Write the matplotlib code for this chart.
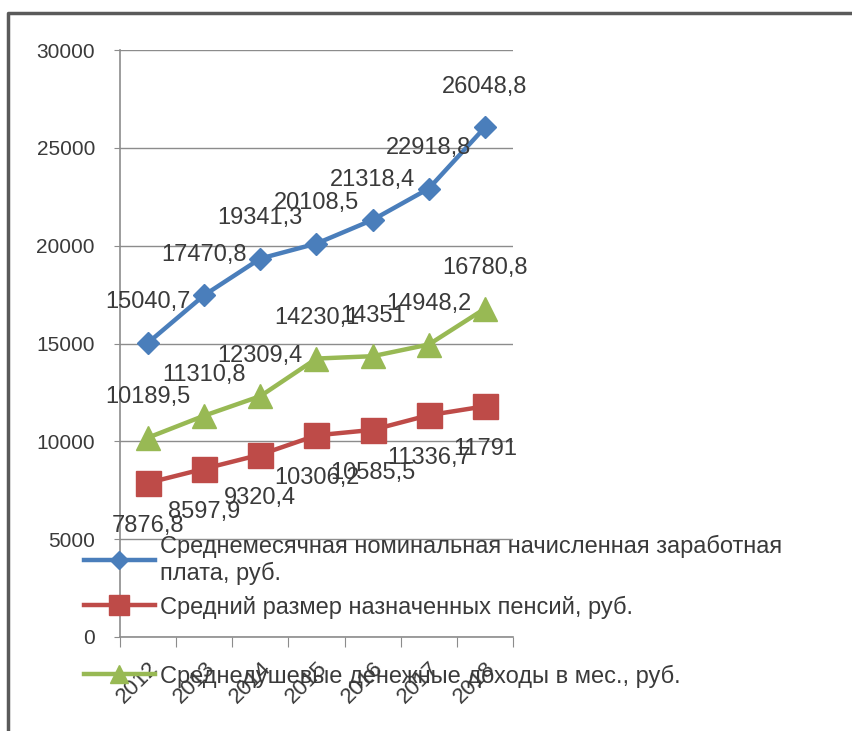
import numpy as np
import matplotlib.pyplot as plt
from matplotlib.lines import Line2D

plt.rcParams['font.family'] = ['Liberation Sans', 'DejaVu Sans']

# Данные
years = ['2012', '2013', '2014', '2015', '2016', '2017', '2018']
zarplata = [15040.7, 17470.8, 19341.3, 20108.5, 21318.4, 22918.8, 26048.8]
pensii = [7876.8, 8597.9, 9320.4, 10306.2, 10585.5, 11336.7, 11791]
dohody = [10189.5, 11310.8, 12309.4, 14230.1, 14351, 14948.2, 16780.8]

names = ['Среднемесячная номинальная начисленная заработная\nплата, руб.',
         'Средний размер назначенных пенсий, руб.',
         'Среднедушевые денежные доходы в мес., руб.']

text_col = '#3a3a3a'
grid_col = '#8c8c8c'

fig = plt.figure(figsize=(8.53, 7.31), dpi=100)
ax = fig.add_axes([120/853, 1 - 637/731, 393/853, 587/731])

x = np.arange(len(years))
l1, = ax.plot(x, zarplata, color='#4A7EBB', lw=3.2, marker='D', ms=11, zorder=4)
l2, = ax.plot(x, pensii, color='#BE4B48', lw=3.2, marker='s', ms=18, zorder=4)
l3, = ax.plot(x, dohody, color='#98B954', lw=3.2, marker='^', ms=17, zorder=4)

def fmt(v):
    s = ('%.1f' % v).rstrip('0').rstrip('.')
    return s.replace('.', ',')

# подписи данных
for xs, vals, dy in [(x, zarplata, 29), (x, dohody, 29), (x, pensii, -31)]:
    for xi, v in zip(xs, vals):
        ax.annotate(fmt(v), (xi, v), xytext=(0, dy), textcoords='offset points',
                    ha='center', va='center', fontsize=17, color=text_col, zorder=5)

ax.set_xlim(-0.5, 6.5)
ax.set_ylim(0, 30000)
ax.set_yticks(np.arange(0, 30001, 5000))
ax.set_yticklabels([str(v) for v in range(0, 30001, 5000)])
ax.yaxis.grid(True, color=grid_col, lw=1)
ax.set_axisbelow(True)

ax.set_xticks(np.arange(-0.5, 7, 1))
ax.set_xticklabels([])
ax.set_xticks(x, minor=True)
ax.set_xticklabels(years, minor=True, rotation=45, ha='right', rotation_mode='anchor')
ax.tick_params(axis='x', which='major', length=7, color=grid_col)
ax.tick_params(axis='x', which='minor', length=0, pad=15, labelsize=16, labelcolor=text_col)
ax.tick_params(axis='y', length=4, color=grid_col, pad=14, labelsize=15, labelcolor=text_col)

for s in ['top', 'right']:
    ax.spines[s].set_visible(False)
for s in ['left', 'bottom']:
    ax.spines[s].set_color(grid_col)
    ax.spines[s].set_linewidth(1.2)

# легенда (три отдельных элемента, как на исходной картинке)
for line, name, ypix in [(l1, names[0], 560), (l2, names[1], 607), (l3, names[2], 676)]:
    h = Line2D([], [], color=line.get_color(), lw=3.2, marker=line.get_marker(),
               ms=line.get_markersize() * 0.8)
    fig.legend([h], [name], loc='center left', bbox_to_anchor=(84/853, 1 - ypix/731),
               frameon=False, fontsize=17, handlelength=3.0, handletextpad=0.2,
               labelcolor=text_col, borderaxespad=0, borderpad=0)

# рамка
fig.add_artist(Line2D([8/853, 8/853, 1], [0, 1 - 13/731, 1 - 13/731],
                      transform=fig.transFigure, color='#5a5a5a', lw=2.5))

fig.savefig('out.png', dpi=100)
